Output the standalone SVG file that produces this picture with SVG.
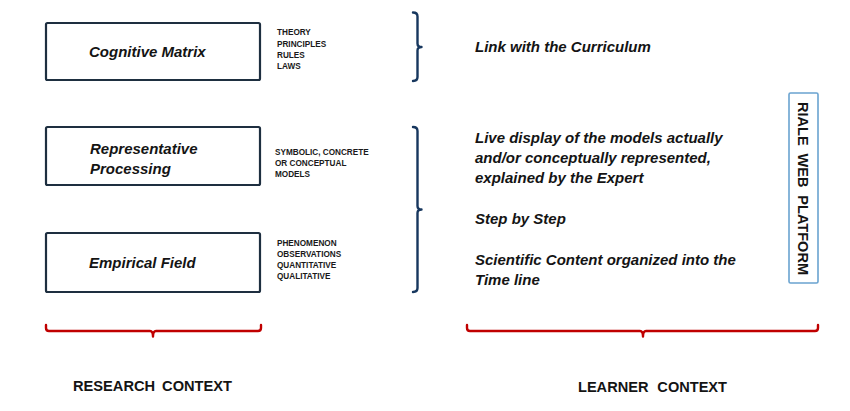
<svg xmlns="http://www.w3.org/2000/svg" width="850" height="411" viewBox="0 0 850 411">
  <style>
    .box { fill: #ffffff; stroke: #1e2f40; stroke-width: 2.2; }
    .title { font-family: "Liberation Sans", Arial, sans-serif; font-size: 15px; font-weight: bold; font-style: italic; fill: #141414; }
    .small { font-family: "Liberation Sans", Arial, sans-serif; font-size: 8.2px; font-weight: bold; fill: #1a1a1a; }
    .item { font-family: "Liberation Sans", Arial, sans-serif; font-size: 15px; font-weight: bold; font-style: italic; fill: #141414; }
    .ctx { font-family: "Liberation Sans", Arial, sans-serif; font-size: 15px; font-weight: bold; fill: #141414; }
    .brace-blue { fill: none; stroke: #17375e; stroke-width: 2.4; stroke-linecap: round; stroke-linejoin: round; }
    .brace-red { fill: none; stroke: #c00000; stroke-width: 2.4; stroke-linecap: round; stroke-linejoin: round; }
    .platform { fill: #ffffff; stroke: #6aa3d0; stroke-width: 1.6; }
  </style>

  <!-- research levels -->
  <g id="cognitive-matrix">
    <rect class="box" x="46" y="23" width="214" height="57" rx="1.5"/>
    <text class="title" x="89" y="57">Cognitive Matrix</text>
    <text class="small" x="277" y="35">THEORY</text>
    <text class="small" x="277" y="46.5">PRINCIPLES</text>
    <text class="small" x="277" y="57.5">RULES</text>
    <text class="small" x="277" y="69">LAWS</text>
  </g>

  <g id="representative-processing">
    <rect class="box" x="46" y="127" width="214" height="58" rx="1.5"/>
    <text class="title" x="90" y="154">Representative</text>
    <text class="title" x="90" y="174">Processing</text>
    <text class="small" x="275" y="155">SYMBOLIC, CONCRETE</text>
    <text class="small" x="275" y="166">OR CONCEPTUAL</text>
    <text class="small" x="275" y="177">MODELS</text>
  </g>

  <g id="empirical-field">
    <rect class="box" x="46" y="233" width="214" height="59" rx="1.5"/>
    <text class="title" x="89" y="268">Empirical Field</text>
    <text class="small" x="277" y="246">PHENOMENON</text>
    <text class="small" x="277" y="257">OBSERVATIONS</text>
    <text class="small" x="277" y="268">QUANTITATIVE</text>
    <text class="small" x="277" y="279">QUALITATIVE</text>
  </g>

  <!-- braces linking the levels to the learner side and grouping the contexts -->
  <g id="connectors">
    <path class="brace-blue" d="M413,12.5 Q417.5,12.5 417.5,16.5 L417.5,43.5 Q417.5,47 421.5,47 Q417.5,47 417.5,50.5 L417.5,77 Q417.5,81 413,81"/>
    <path class="brace-blue" d="M413,127 Q417.5,127 417.5,131 L417.5,206 Q417.5,209.5 421.5,209.5 Q417.5,209.5 417.5,213 L417.5,288 Q417.5,292 413,292"/>
    <path class="brace-red" d="M46,325 L46,328 Q46,331 49,331 L150,331 Q153,331 153,336.5 Q153,331 156,331 L258,331 Q261,331 261,328 L261,325"/>
    <path class="brace-red" d="M467,325 L467,328 Q467,331 470,331 L640,331 Q643,331 643,336.5 Q643,331 646,331 L815,331 Q818,331 818,328 L818,325"/>
  </g>

  <!-- learner side -->
  <g id="curriculum-link">
    <text class="item" x="475" y="52">Link with the Curriculum</text>
  </g>

  <g id="learner-items">
    <text class="item" x="475" y="143">Live display of the models actually</text>
    <text class="item" x="475" y="163">and/or conceptually represented,</text>
    <text class="item" x="475" y="183">explained by the Expert</text>
    <text class="item" x="475" y="224">Step by Step</text>
    <text class="item" x="475" y="265">Scientific Content organized into the</text>
    <text class="item" x="475" y="285">Time line</text>
  </g>

  <g id="riale-platform">
    <rect class="platform" x="789" y="93" width="29" height="190" rx="1.5"/>
    <text class="ctx" transform="translate(798,188.5) rotate(90)" text-anchor="middle" font-size="16" word-spacing="4" textLength="173" lengthAdjust="spacingAndGlyphs">RIALE WEB PLATFORM</text>
  </g>

  <!-- context captions -->
  <g id="research-context">
    <text class="ctx" x="73" y="391" word-spacing="3" textLength="159" lengthAdjust="spacingAndGlyphs">RESEARCH CONTEXT</text>
  </g>
  <g id="learner-context">
    <text class="ctx" x="578" y="392" word-spacing="5" textLength="149" lengthAdjust="spacingAndGlyphs">LEARNER CONTEXT</text>
  </g>
</svg>
